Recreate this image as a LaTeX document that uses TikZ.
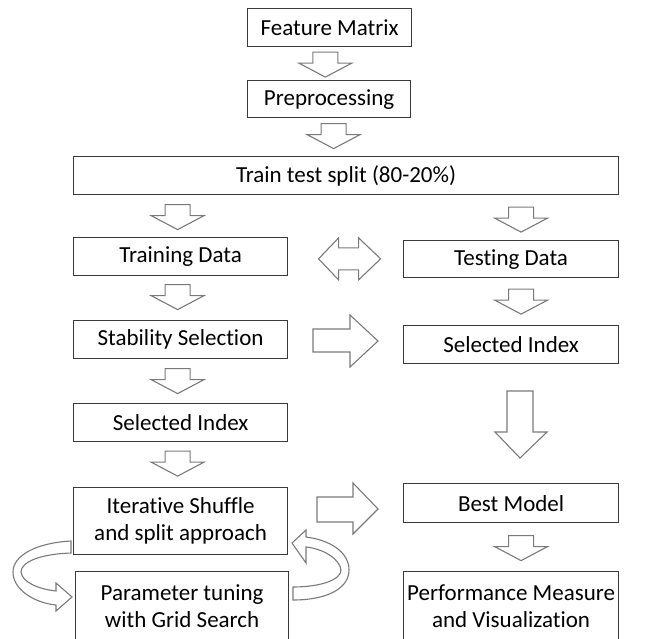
\documentclass[tikz,border=0pt]{standalone}
\usepackage{fontspec}
\setmainfont[Ligatures=NoCommon]{Carlito}
\usetikzlibrary{calc}
\definecolor{boxc}{HTML}{3A3A3A}
\definecolor{arrc}{HTML}{7A7A7A}
\tikzset{
  box/.style={draw=boxc, line width=1.2pt, fill=white, inner sep=0pt, anchor=north west,
    font=\fontsize{23}{27}\selectfont, align=center},
  blk/.style={draw=arrc, line width=1.1pt, fill=white, line join=miter},
  pics/darr/.style={code={\draw[blk] (-12.5,-12.5) -- (12.5,-12.5) -- (12.5,-1.5) -- (26.5,-1.5)
      -- (0,12.5) -- (-26.5,-1.5) -- (-12.5,-1.5) -- cycle;}}
}
\begin{document}
\begin{tikzpicture}[x=1pt,y=-1pt]
\useasboundingbox (0,0) rectangle (646,638);
\clip (0,0) rectangle (646,638);
% boxes
\node[box, minimum width=164, minimum height=38] (fm) at (247,8) {Feature Matrix};
\node[box, minimum width=163, minimum height=37] (pre) at (247,80) {Preprocessing};
\node[box, minimum width=545, minimum height=38] (tts) at (73,156) {Train test split (80-20\%)};
\node[box, minimum width=214, minimum height=38] (trd) at (73,237) {Training Data};
\node[box, minimum width=214, minimum height=38] (ss) at (73,320) {Stability Selection};
\node[box, minimum width=214, minimum height=38] (sil) at (73,403) {Selected Index};
\node[box, minimum width=214, minimum height=67] (isa) at (73,487) {Iterative Shuffle\\and split approach};
\node[box, minimum width=213, minimum height=69] (ptg) at (75,571) {Parameter tuning\\with Grid Search};
\node[box, minimum width=215, minimum height=37] (ted) at (403,240) {Testing Data};
\node[box, minimum width=215, minimum height=38] (sir) at (403,325) {Selected Index};
\node[box, minimum width=215, minimum height=39] (bm) at (403,483) {Best Model};
\node[box, minimum width=215, minimum height=69] (pmv) at (403,571) {Performance Measure\\and Visualization};
% down block arrows
\coordinate (a1) at ($(fm.south)!0.5!(pre.north)+(-4,1)$);
\pic at (a1) {darr};
\coordinate (a2) at ($(pre.south)!0.5!(tts.north)+(-4,-1)$);
\pic at (a2) {darr};
\coordinate (a3) at ($(tts.south -| trd.north)!0.5!(trd.north)+(-3,1)$);
\pic at (a3) {darr};
\coordinate (a4) at ($(trd.south)!0.5!(ss.north)+(-3,-1)$);
\pic at (a4) {darr};
\coordinate (a5) at ($(ss.south)!0.5!(sil.north)+(-3,0)$);
\pic at (a5) {darr};
\coordinate (a6) at ($(sil.south)!0.5!(isa.north)+(-3,-1)$);
\pic at (a6) {darr};
\coordinate (b1) at ($(tts.south -| ted.north)!0.5!(ted.north)+(10,2)$);
\pic at (b1) {darr};
\coordinate (b2) at ($(ted.south)!0.5!(sir.north)+(10,0)$);
\pic at (b2) {darr};
\coordinate (b3) at ($(bm.south)!0.5!(pmv.north)+(10,1)$);
\pic at (b3) {darr};
% big down arrow
\coordinate (bd) at (520,391);
\draw[blk] (bd) ++(-13,0) -- ++(26,0) -- ++(0,41) -- ++(14,0) -- (520,458) -- ++(-25,-26) -- ++(12,0) -- cycle;
% double arrow between Training Data and Testing Data
\coordinate (dl) at ($(trd.east)!0.5!(ted.west)+(-27,1)$);
\draw[blk] (dl) -- ++(20,-21) -- ++(0,10) -- ++(20,0) -- ++(0,-10) -- ++(22,21)
  -- ++(-22,21) -- ++(0,-10) -- ++(-20,0) -- ++(0,10) -- cycle;
% right arrow Stability -> Selected Index
\coordinate (rs) at (313,329);
\draw[blk] (rs) -- ++(37,0) -- ++(0,-14) -- (378,341) -- (350,367) -- ++(0,-15) -- ++(-37,0) -- cycle;
% right arrow Iterative -> Best Model
\coordinate (ri) at (317,497);
\draw[blk] (ri) -- ++(36,0) -- ++(0,-14) -- (378,509) -- (353,534) -- ++(0,-12) -- ++(-36,0) -- cycle;
% curved arrow left (Iterative -> Parameter tuning)
\coordinate (cl) at (isa.south west);
\draw[blk] (71,541) .. controls (35,543) and (13,556) .. (13,572)
  .. controls (13,590) and (35,603) .. (56,605) -- (56,611) -- (72,597) -- (56,583) -- (56,591)
  .. controls (38,589) and (22,582) .. (21,572) .. controls (21,562) and (40,554) .. (71,553) -- cycle;
% curved arrow right (Parameter tuning -> Iterative)
\coordinate (cr) at (ptg.east);
\draw[blk] (293,587) -- (293,600) .. controls (328,600) and (349,588) .. (349,570)
  .. controls (349,552) and (330,540) .. (306,537) -- (306,530) -- (292,543) -- (306,563) -- (306,547)
  .. controls (325,549) and (340,560) .. (341,570) .. controls (341,580) and (320,587) .. cycle;
\end{tikzpicture}
\end{document}
